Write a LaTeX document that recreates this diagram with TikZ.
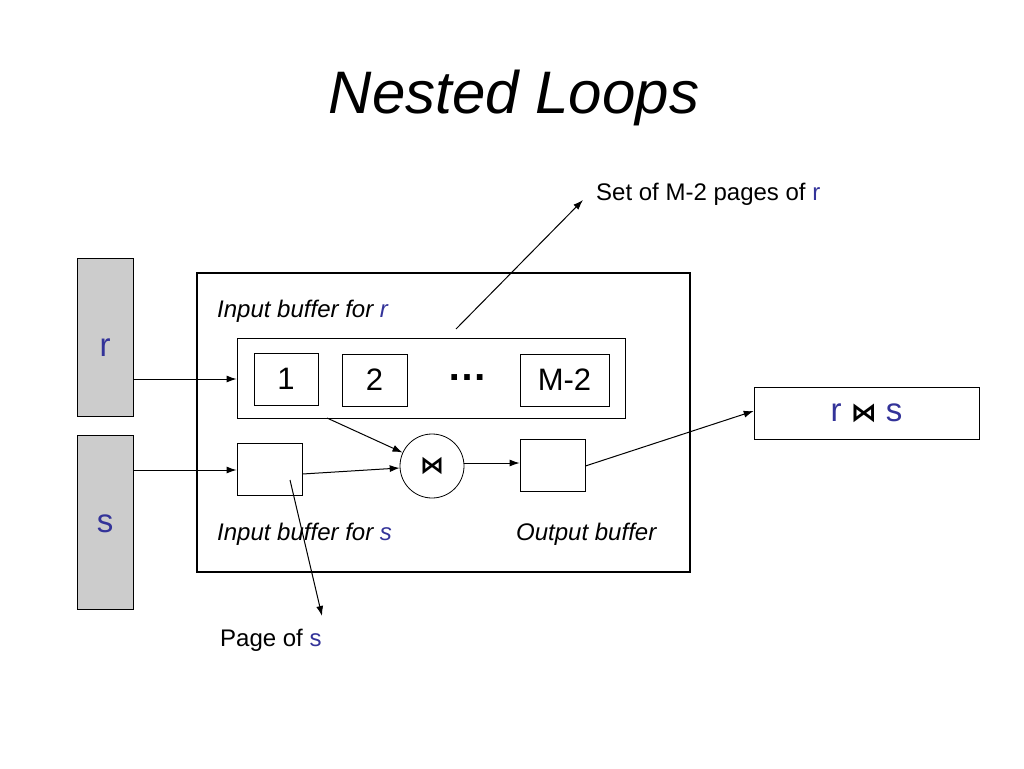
\documentclass[tikz,border=0pt]{standalone}
\usepackage{fontspec}
\usetikzlibrary{arrows.meta}
\setmainfont{Liberation Sans}
\newfontfamily\bowfont{DejaVu Sans}
\definecolor{db}{HTML}{333399}
\newcommand{\bow}{{\bowfont\bfseries ⋈}}
\begin{document}
\begin{tikzpicture}[x=1pt,y=-1pt,
  box/.style={draw,line width=0.8pt,inner sep=0},
  lab/.style={font=\fontsize{24}{28}\selectfont\itshape,anchor=west,inner sep=0},
  note/.style={font=\fontsize{24}{28}\selectfont,anchor=west,inner sep=0},
  big/.style={font=\fontsize{33}{38}\selectfont},
  arr/.style={-{Latex[length=10pt,width=7pt]},line width=1pt}]
\useasboundingbox (0,0) rectangle (1024,768);
\node[font=\fontsize{60}{66}\selectfont\itshape] (title) at (514,98) {Nested Loops};
\node[box,fill=gray!40,minimum width=56pt,minimum height=158pt] (r) at (105,337) {};
\node[big,text=db] (rl) at (105,348) {r};
\node[box,fill=gray!40,minimum width=56pt,minimum height=174pt] (s) at (105,522) {};
\node[big,text=db] (sl) at (105,524) {s};
\node[draw,line width=1.8pt,minimum width=493pt,minimum height=299pt] (main) at (443.5,422.5) {};
\node[lab] (ibr) at (217,311) {Input buffer for \textcolor{db}{r}};
\node[box,minimum width=388pt,minimum height=80pt] (inner) at (431,378) {};
\node[box,minimum width=64pt,minimum height=52pt,font=\fontsize{31}{34}\selectfont] (b1) at (286,379) {1};
\node[box,minimum width=65pt,minimum height=52pt,font=\fontsize{31}{34}\selectfont] (b2) at (374.5,380) {2};
\node[font=\fontsize{40}{44}\selectfont\bfseries] (dots) at (467,378) {\dots};
\node[box,minimum width=89pt,minimum height=52pt,font=\fontsize{31}{34}\selectfont] (bm) at (564.5,380) {M-2};
\node[box,minimum width=65pt,minimum height=52pt] (sb) at (269.5,469) {};
\node[draw,circle,line width=0.8pt,minimum size=64pt,inner sep=0,font=\fontsize{24}{28}\selectfont] (j) at (432,466) {\bow};
\node[box,minimum width=65pt,minimum height=52pt] (ob) at (552.5,465) {};
\node[lab] (ibs) at (217,534) {Input buffer for \textcolor{db}{s}};
\node[lab] (obl) at (516,534) {Output buffer};
\node[draw,line width=0.6pt,minimum width=225pt,minimum height=52pt,font=\fontsize{33}{38}\selectfont,text=db] (res) at (866.5,413) {r {\color{black}\fontsize{26}{30}\selectfont\bow} s};
\node[note] (setn) at (596,194) {Set of M-2 pages of \textcolor{db}{r}};
\node[note] (pgs) at (220,640) {Page of \textcolor{db}{s}};
\coordinate (a1) at (456,329);
\coordinate (a2) at (583,200);
\coordinate (p1) at (290,480);
\coordinate (p2) at (322,616);
\coordinate (i1) at (327,418);
\draw[arr] (a1) -- (a2);
\draw[arr] (p1) -- (p2);
\draw[arr] (r.east |- 0,379) -- (inner.west |- 0,379);
\draw[arr] (s.east |- 0,470) -- (sb.west |- 0,470);
\draw[arr] (i1) -- (j);
\draw[arr] (sb.east |- 0,474) -- (j);
\draw[arr] (j.east |- 0,463) -- (ob.west |- 0,463);
\draw[arr] (ob.east |- 0,466) -- (res.west |- 0,411);
\end{tikzpicture}
\end{document}
